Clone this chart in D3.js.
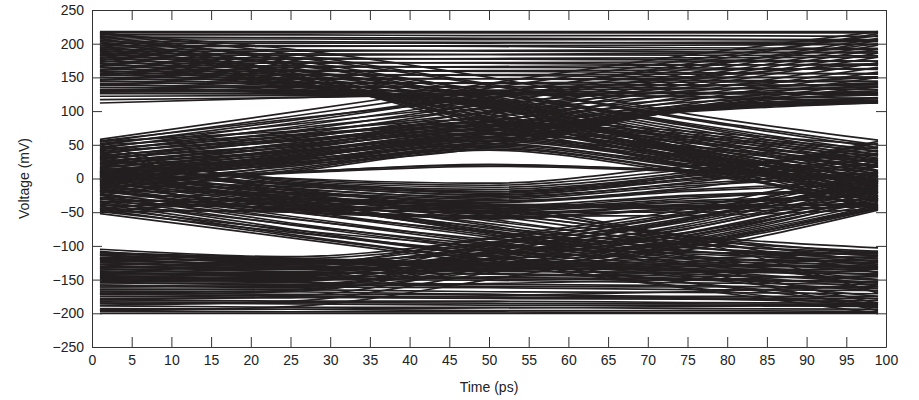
<!DOCTYPE html>
<html>
<head>
<meta charset="utf-8">
<script src="https://cdn.jsdelivr.net/npm/d3@7"></script>
<style>
  body { margin: 0; background: #fff; }
  svg { display: block; }
  text { font-family: "Liberation Sans", Arial, Helvetica, sans-serif; }
</style>
</head>
<body>
<svg id="chart" width="919" height="400"></svg>
<script>
// Sample instants (ps) at which every trace is recorded
const timeSamples = [1, 25, 50, 75, 99];

// Eye-diagram traces, grouped by level transition (values in mV at each sample instant)
const highToHigh = [
  [218,218,218,218,218],
  [216,216,216,216,216],
  [213,213,212,212,211],
  [210,209,208,207,206],
  [207,207,206,206,205],
  [204,203,202,201,199],
  [201,201,201,202,203],
  [198,197,196,194,193],
  [195,196,197,198,199],
  [192,191,189,188,186],
  [189,189,190,191,191],
  [186,185,184,183,182],
  [183,183,184,186,188],
  [180,179,177,176,174],
  [177,177,178,179,180],
  [174,173,171,169,168],
  [171,171,172,173,174],
  [168,167,165,164,162],
  [165,165,166,168,170],
  [162,161,159,157,155],
  [159,159,160,161,163],
  [156,155,153,151,149],
  [153,153,154,155,156],
  [150,149,148,146,144],
  [147,147,148,149,151],
  [144,143,141,139,137],
  [141,141,142,143,144],
  [138,137,136,134,132],
  [135,135,136,138,139],
  [132,131,130,128,126],
  [129,129,131,133,135],
  [126,126,127,126,124],
  [122,123,125,127,128],
  [117,120,124,122,119],
  [112,120,126,121,115]
];

const highToMid = [
  [214,192,150,96,57],
  [216,185,140,90,50],
  [210,176,128,80,35],
  [217,172,118,62,10],
  [205,180,138,88,46],
  [212,165,105,50,-5],
  [200,170,130,82,40],
  [208,158,95,38,-20],
  [195,168,126,78,30],
  [203,155,90,30,-30],
  [190,162,122,74,26],
  [198,150,85,25,-40],
  [185,160,120,70,22],
  [193,152,80,20,-44],
  [180,156,118,66,18],
  [188,150,76,18,-46],
  [175,152,114,62,12],
  [170,148,110,58,6],
  [183,145,84,28,-34],
  [165,145,112,55,2],
  [160,142,106,50,-4],
  [178,143,88,32,-26],
  [155,139,104,46,-8],
  [150,136,108,44,-12],
  [172,141,92,36,-18],
  [145,133,104,42,-15],
  [140,131,110,40,-22],
  [166,139,96,40,-10],
  [135,129,112,38,-25],
  [131,127,114,36,-28],
  [158,137,100,44,-2],
  [127,125,116,34,-31]
];

const midToHigh = [
  [58,98,141,183,218],
  [54,92,134,176,212],
  [50,86,126,166,200],
  [56,88,120,150,170],
  [45,82,124,170,215],
  [52,80,110,135,150],
  [40,76,118,162,208],
  [47,74,104,130,142],
  [36,70,112,156,205],
  [43,68,98,124,136],
  [32,64,106,150,198],
  [38,62,92,118,130],
  [28,58,100,145,192],
  [34,56,86,113,124],
  [24,52,95,140,186],
  [30,50,80,108,118],
  [20,47,90,135,180],
  [26,46,76,106,116],
  [16,42,84,128,172],
  [12,38,78,122,165],
  [22,40,70,104,114],
  [8,34,72,116,158],
  [18,36,66,102,113],
  [4,30,66,110,150],
  [14,32,62,100,112],
  [0,26,60,106,142],
  [10,28,56,101,115],
  [-2,22,54,104,136],
  [6,24,50,102,120],
  [2,20,46,103,128],
  [-2,30,70,99,112]
];

const midMidUpper = [
  [-20,10,42,8,-30],
  [-14,15,46,13,-22],
  [-25,12,44,11,-34],
  [-8,18,48,17,-18],
  [-3,23,52,19,-12],
  [-18,20,50,22,-6],
  [3,26,55,25,-8],
  [6,31,57,27,-2],
  [-10,28,59,30,4],
  [12,33,61,33,2],
  [16,39,62,35,8],
  [0,36,65,38,-15],
  [22,41,67,41,11],
  [24,47,68,44,17],
  [8,44,71,48,24],
  [31,49,73,47,19],
  [34,55,74,53,26],
  [18,52,77,58,33],
  [41,57,79,55,29],
  [44,63,80,61,36],
  [28,60,84,66,44],
  [50,65,83,63,41],
  [55,70,88,70,50]
];

const midMidCentre = [
  [-2,10,20,12,0],
  [-4,8,18,10,-3],
  [-6,9,21,11,-5]
];

const midMidLower = [
  [16,0,-7,18,35],
  [28,-1,-10,13,41],
  [37,-3,-13,9,47],
  [44,-5,-16,6,52],
  [50,-8,-20,4,55],
  [11,-7,-19,3,29],
  [5,-9,-22,-1,21],
  [22,-10,-24,0,38],
  [-5,-12,-25,-3,17],
  [-11,-16,-29,-8,9],
  [32,-14,-27,-6,30],
  [-19,-21,-31,-11,5],
  [-29,-23,-35,-17,-3],
  [-35,-29,-36,-19,-7],
  [40,-18,-33,-14,25],
  [-44,-31,-41,-25,-15],
  [-48,-36,-44,-27,-19],
  [-31,-40,-47,-33,-27],
  [-15,-45,-49,-35,-31],
  [1,-47,-55,-41,-39],
  [-40,-42,-52,-38,-22],
  [-24,-50,-58,-44,-36],
  [-50,-47,-60,-46,-42],
  [-10,-38,-45,-30,-12],
  [-20,-35,-42,-44,-30],
  [10,-30,-40,-42,-20],
  [-35,-44,-50,-50,-40],
  [0,-28,-38,-40,-10],
  [-45,-50,-56,-55,-45]
];

const midToLow = [
  [15,-15,-50,-85,-103],
  [12,-22,-60,-100,-130],
  [11,-21,-55,-91,-108],
  [9,-28,-70,-115,-160],
  [8,-18,-42,-86,-112],
  [7,-24,-63,-95,-115],
  [5,-32,-78,-128,-185],
  [4,-22,-38,-86,-124],
  [3,-31,-67,-102,-119],
  [1,-36,-82,-135,-196],
  [-1,-34,-74,-107,-127],
  [-2,-26,-45,-88,-140],
  [-4,-38,-80,-120,-150],
  [-6,-40,-77,-114,-131],
  [-8,-30,-52,-92,-170],
  [-9,-46,-84,-117,-139],
  [-12,-42,-72,-98,-110],
  [-14,-49,-87,-124,-143],
  [-17,-56,-94,-127,-151],
  [-19,-50,-80,-103,-114],
  [-22,-59,-97,-134,-155],
  [-25,-66,-104,-137,-163],
  [-28,-60,-90,-108,-118],
  [-30,-69,-107,-144,-167],
  [-33,-75,-114,-147,-175],
  [-36,-68,-98,-112,-122],
  [-38,-78,-116,-154,-179],
  [-41,-83,-121,-155,-187],
  [-44,-76,-100,-110,-112],
  [-46,-85,-122,-161,-192],
  [-49,-80,-108,-118,-125],
  [-52,-88,-126,-163,-200]
];

const lowToMid = [
  [-105,-116,-90,-50,10],
  [-108,-122,-110,-80,-30],
  [-110,-119,-95,-54,4],
  [-113,-125,-120,-95,-44],
  [-114,-125,-97,-61,1],
  [-118,-130,-100,-58,-2],
  [-119,-128,-88,-45,18],
  [-121,-127,-103,-64,-6],
  [-124,-133,-105,-71,-9],
  [-128,-138,-115,-85,-25],
  [-131,-135,-111,-74,-16],
  [-134,-141,-113,-81,-19],
  [-138,-146,-108,-62,0],
  [-141,-143,-119,-84,-26],
  [-144,-149,-121,-91,-29],
  [-146,-150,-98,-52,8],
  [-148,-153,-112,-68,-4],
  [-151,-151,-127,-93,-36],
  [-154,-157,-129,-99,-39],
  [-158,-162,-118,-75,-12],
  [-161,-159,-135,-101,-45],
  [-165,-164,-138,-106,-47],
  [-170,-166,-110,-60,-5],
  [-172,-168,-125,-80,-20],
  [-180,-175,-132,-88,-32],
  [-188,-182,-140,-96,-40],
  [-196,-190,-150,-100,-42]
];

const lowToLow = [
  [-110,-118,-124,-119,-108],
  [-112,-120,-128,-130,-132],
  [-114,-121,-126,-123,-116],
  [-117,-124,-131,-137,-142],
  [-118,-123,-129,-126,-121],
  [-120,-122,-125,-128,-131],
  [-123,-126,-131,-131,-128],
  [-125,-130,-136,-142,-150],
  [-127,-131,-133,-134,-135],
  [-130,-133,-134,-136,-138],
  [-132,-134,-138,-139,-141],
  [-134,-138,-142,-148,-155],
  [-137,-140,-141,-145,-146],
  [-140,-141,-136,-130,-124],
  [-143,-144,-147,-149,-153],
  [-145,-147,-149,-151,-154],
  [-147,-150,-151,-155,-157],
  [-150,-150,-146,-140,-133],
  [-153,-154,-157,-159,-163],
  [-155,-157,-160,-161,-160],
  [-158,-161,-162,-165,-166],
  [-161,-160,-156,-150,-144],
  [-164,-165,-168,-169,-171],
  [-167,-168,-172,-178,-184],
  [-170,-172,-172,-175,-175],
  [-172,-174,-176,-177,-178],
  [-175,-176,-178,-179,-181],
  [-178,-177,-174,-168,-160],
  [-180,-182,-182,-184,-185],
  [-183,-184,-185,-186,-187],
  [-185,-186,-188,-188,-190],
  [-189,-191,-191,-193,-194],
  [-193,-194,-196,-196,-197],
  [-195,-194,-192,-190,-188],
  [-197,-198,-198,-199,-199],
  [-200,-200,-200,-200,-200]
];

// Axis ticks
const xTickValues = [0,5,10,15,20,25,30,35,40,45,50,55,60,65,70,75,80,85,90,95,100];
const yTickValues = [-250,-200,-150,-100,-50,0,50,100,150,200,250];
const yTickLabels = ["\u2212250","\u2212200","\u2212150","\u2212100","\u221250","0","50","100","150","200","250"];

const xLabel = "Time (ps)";
const yLabel = "Voltage (mV)";

// ---- drawing ----
const svg = d3.select("#chart");
const plot = { left: 92, right: 886, top: 10, bottom: 347 };

const x = d3.scaleLinear().domain([0, 100]).range([plot.left, plot.right]);
const y = d3.scaleLinear().domain([-250, 250]).range([plot.bottom, plot.top]);

const traceLine = d3.line()
  .x((d, i) => x(timeSamples[i]))
  .y(d => y(d))
  .curve(d3.curveMonotoneX);

const traceGroups = [
  highToHigh, highToMid, midToHigh,
  midMidUpper, midMidCentre, midMidLower,
  midToLow, lowToMid, lowToLow
];

svg.append("g")
  .selectAll("path")
  .data(traceGroups.flat())
  .join("path")
  .attr("d", traceLine)
  .attr("fill", "none")
  .attr("stroke", "#231f20")
  .attr("stroke-width", 1.7)
  .attr("stroke-linejoin", "round");

// Boxed axes with inward ticks
function styleAxis(g) {
  g.select(".domain").attr("stroke", "#333").attr("stroke-width", 1);
  g.selectAll(".tick line").attr("stroke", "#333").attr("stroke-width", 1);
  g.selectAll(".tick text")
    .attr("fill", "#222")
    .style("font-size", "14px")
    .style("font-family", '"Liberation Sans", Arial, Helvetica, sans-serif');
}

svg.append("g")
  .attr("transform", `translate(0,${plot.bottom})`)
  .call(d3.axisBottom(x).tickValues(xTickValues).tickSizeInner(-10).tickSizeOuter(0).tickPadding(8))
  .call(styleAxis);

svg.append("g")
  .attr("transform", `translate(0,${plot.top})`)
  .call(d3.axisTop(x).tickValues(xTickValues).tickSizeInner(-10).tickSizeOuter(0).tickFormat(""))
  .call(styleAxis);

svg.append("g")
  .attr("transform", `translate(${plot.left},0)`)
  .call(d3.axisLeft(y).tickValues(yTickValues).tickSizeInner(-10).tickSizeOuter(0).tickPadding(8)
    .tickFormat((d, i) => yTickLabels[i]))
  .call(styleAxis);

svg.append("g")
  .attr("transform", `translate(${plot.right},0)`)
  .call(d3.axisRight(y).tickValues(yTickValues).tickSizeInner(-10).tickSizeOuter(0).tickFormat(""))
  .call(styleAxis);

// Axis titles
svg.append("text")
  .attr("x", (plot.left + plot.right) / 2)
  .attr("y", 392)
  .attr("text-anchor", "middle")
  .attr("fill", "#222")
  .style("font-size", "14px")
  .text(xLabel);

svg.append("text")
  .attr("transform", `translate(29,${(plot.top + plot.bottom) / 2}) rotate(-90)`)
  .attr("text-anchor", "middle")
  .attr("fill", "#222")
  .style("font-size", "14px")
  .text(yLabel);
</script>
</body>
</html>
